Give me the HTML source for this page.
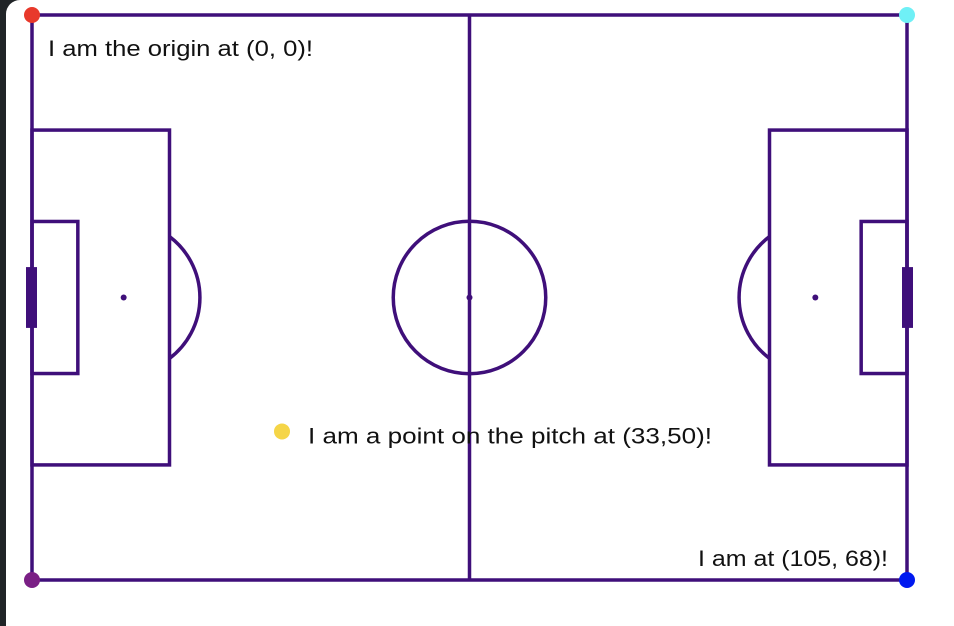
<!DOCTYPE html>
<html><head><meta charset="utf-8"><style>
html,body{margin:0;padding:0;background:#fff;width:954px;height:626px;overflow:hidden}
svg{display:block}
text{font-family:"Liberation Sans","DejaVu Sans",sans-serif;font-size:22px;fill:#111}
</style></head><body>
<svg width="954" height="626">
<rect x="0" y="0" width="6" height="626" fill="#202427"/>
<rect x="6" y="0" width="14" height="14" fill="#202427"/>
<path d="M6 14 A14 14 0 0 1 20 0 L20 14 Z" fill="#fff"/>
<rect x="6" y="0" width="15" height="15" fill="#fff" opacity="0"/>
<g id="pitch" fill="none" stroke="#3f0f7a" stroke-width="3.5"></g>
<g id="marks"></g>
</svg>
<script>
const pointLabels = ["I am the origin at (0, 0)!", "I am a point on the pitch at (33,50)!", "I am at (105, 68)!"];
const pointX = [0, 33, 105];
const pointY = [0, 50, 68];
const cornerX = [0, 105, 0, 105];
const cornerY = [0, 0, 68, 68];
const cornerColors = ["#e8392b", "#6ff0f6", "#7a1f85", "#0019f0"];

const X0=32, Y0=15, SX=875/105, SY=565/68;
const sx=v=>X0+v*SX, sy=v=>Y0+v*SY;
const NS="http://www.w3.org/2000/svg";
const pitch=document.getElementById('pitch'), marks=document.getElementById('marks');
function mk(parent,tag,attrs,name){const e=document.createElementNS(NS,tag);for(const k in attrs)e.setAttribute(k,attrs[k]);


parent.appendChild(e);return e;}
function rect(x1,y1,x2,y2,name,extra){return mk(pitch,'rect',Object.assign({x:sx(x1),y:sy(y1),width:sx(x2)-sx(x1),height:sy(y2)-sy(y1)},extra||{}),name);}
rect(0,0,105,68,'pitch-outline');
mk(pitch,'line',{x1:sx(52.5),y1:sy(0),x2:sx(52.5),y2:sy(68)},'halfway-line');
mk(pitch,'circle',{cx:sx(52.5),cy:sy(34),r:9.15*SX},'center-circle');
mk(pitch,'circle',{cx:sx(52.5),cy:sy(34),r:3,fill:'#3f0f7a',stroke:'none'},'center-spot');
rect(0,13.85,16.5,54.15,'left-penalty-box');
rect(0,24.85,5.5,43.15,'left-six-yard-box');
rect(88.5,13.85,105,54.15,'right-penalty-box');
rect(99.5,24.85,105,43.15,'right-six-yard-box');
mk(pitch,'rect',{x:sx(0)-6,y:sy(30.34),width:11,height:sy(37.66)-sy(30.34),fill:'#3f0f7a',stroke:'none'},'left-goal');
mk(pitch,'rect',{x:sx(105)-5,y:sy(30.34),width:11,height:sy(37.66)-sy(30.34),fill:'#3f0f7a',stroke:'none'},'right-goal');
mk(pitch,'circle',{cx:sx(11),cy:sy(34),r:3,fill:'#3f0f7a',stroke:'none'},'left-penalty-spot');
mk(pitch,'circle',{cx:sx(94),cy:sy(34),r:3,fill:'#3f0f7a',stroke:'none'},'right-penalty-spot');
const R=9.15*SX, dx=sx(16.5)-sx(11), dy=Math.sqrt(R*R-dx*dx);
mk(pitch,'path',{d:`M${sx(16.5)} ${sy(34)-dy} A${R} ${R} 0 0 1 ${sx(16.5)} ${sy(34)+dy}`},'left-penalty-arc');
mk(pitch,'path',{d:`M${sx(88.5)} ${sy(34)-dy} A${R} ${R} 0 0 0 ${sx(88.5)} ${sy(34)+dy}`},'right-penalty-arc');
for(let i=0;i<cornerX.length;i++){
  mk(marks,'circle',{cx:sx(cornerX[i]),cy:sy(cornerY[i]),r:8,fill:cornerColors[i]},'corner-dot-'+i);
}
const t0=mk(marks,'text',{x:sx(pointX[0])+16,y:sy(pointY[0])+41,textLength:265,lengthAdjust:'spacingAndGlyphs'},'origin-label'); t0.textContent=pointLabels[0];
mk(marks,'circle',{cx:sx(pointX[1])-25,cy:sy(pointY[1])+1,r:8,fill:'#f5d547'},'pitch-point-dot');
const t1=mk(marks,'text',{x:sx(pointX[1])+1,y:sy(pointY[1])+13,textLength:404,lengthAdjust:'spacingAndGlyphs'},'pitch-point-label'); t1.textContent=pointLabels[1];
const t2=mk(marks,'text',{x:sx(pointX[2])-209,y:sy(pointY[2])-14,textLength:190,lengthAdjust:'spacingAndGlyphs'},'end-corner-label'); t2.textContent=pointLabels[2];
</script>
</body></html>
